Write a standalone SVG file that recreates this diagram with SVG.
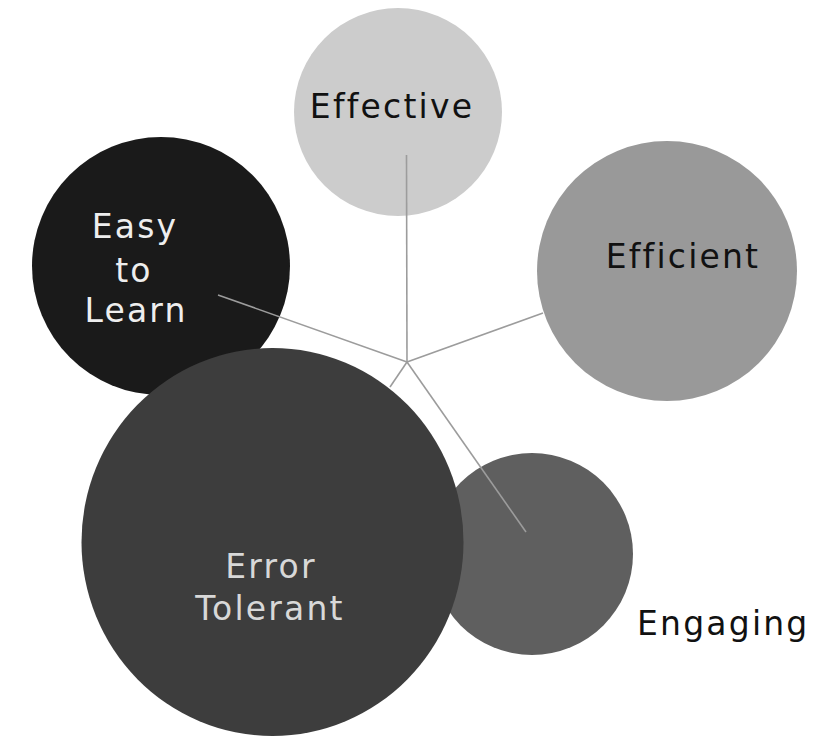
<svg xmlns="http://www.w3.org/2000/svg" width="821" height="737" viewBox="0 0 821 737">
<style>
text{font-family:"DejaVu Sans","Verdana",sans-serif;font-size:33px;letter-spacing:2.2px}
.dark{fill:#111111}
.light{fill:#eeeeee}
.mid{fill:#d8d8d8}
.conn line{stroke:#9c9c9c;stroke-width:1.6;fill:none}
</style>
<rect width="821" height="737" fill="#ffffff"/>
<g id="effective">
<circle cx="398" cy="112" r="104" fill="#cccccc"/>
<text x="392" y="118" text-anchor="middle" class="dark">Effective</text>
</g>
<g id="efficient">
<circle cx="667" cy="271" r="130" fill="#999999"/>
<text x="683" y="268" text-anchor="middle" class="dark">Efficient</text>
</g>
<g id="easy-to-learn">
<circle cx="161" cy="266" r="129" fill="#1a1a1a"/>
<text x="135" y="238" text-anchor="middle" class="light">Easy</text>
<text x="134" y="282" text-anchor="middle" class="light">to</text>
<text x="136" y="322" text-anchor="middle" class="light">Learn</text>
</g>
<g id="engaging">
<circle cx="532" cy="554" r="101" fill="#5f5f5f"/>
<text x="637" y="635" class="dark">Engaging</text>
</g>
<g id="error-tolerant">
<ellipse cx="272.5" cy="542" rx="191" ry="194" fill="#3d3d3d"/>
<text x="271" y="578" text-anchor="middle" class="mid">Error</text>
<text x="270" y="620" text-anchor="middle" class="mid">Tolerant</text>
</g>
<g id="connectors" class="conn">
<line x1="407" y1="362" x2="406.5" y2="155"/>
<line x1="407" y1="362" x2="218" y2="295"/>
<line x1="407" y1="362" x2="543" y2="313"/>
<line x1="407" y1="362" x2="526" y2="532"/>
<line x1="407" y1="362" x2="390" y2="387"/>
</g>
</svg>
